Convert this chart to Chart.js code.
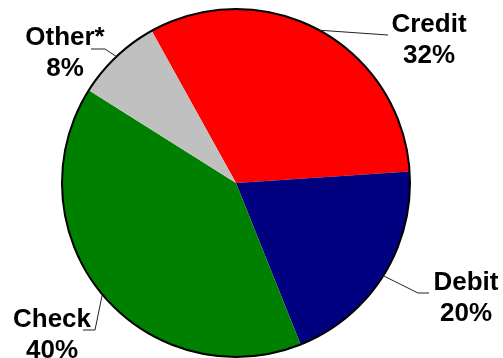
<!DOCTYPE html>
<html>
<head>
<meta charset="utf-8">
<script src="https://cdn.jsdelivr.net/npm/chart.js@4.4.0/dist/chart.umd.min.js"></script>
<style>
  html, body { margin: 0; padding: 0; background: #fff; }
  #wrap { width: 503px; height: 358px; }
</style>
</head>
<body>
<div id="wrap"><canvas id="payChart" width="503" height="358"></canvas></div>
<script>
// payment method share
const categories = ["Credit", "Debit", "Check", "Other*"];
const shares = [32, 20, 40, 8];
const sliceColors = ["#ff0000", "#000080", "#008000", "#c0c0c0"];

// label placement relative to pie center (px): text center x, first baseline y,
// leader elbow and end points
const labelLayout = [
  { dx: 193, dy: -151, elbow: [152, -148], end: [152, -148] },
  { dx: 230, dy: 107, elbow: [182, 110], end: [193, 110] },
  { dx: -184, dy: 144, elbow: [-141, 147], end: [-153, 147] },
  { dx: -171, dy: -138, elbow: [-131, -134], end: [-145, -134] },
];

const labelPlugin = {
  id: "pieLabels",
  afterDatasetsDraw(chart) {
    const ctx = chart.ctx;
    const meta = chart.getDatasetMeta(0);
    const first = meta.data[0];
    const cx = first.x;
    const cy = first.y;
    const r = first.outerRadius;

    // outer rim
    ctx.save();
    ctx.beginPath();
    ctx.arc(cx, cy, r, 0, Math.PI * 2);
    ctx.lineWidth = 2;
    ctx.strokeStyle = "#000";
    ctx.stroke();

    meta.data.forEach((arc, i) => {
      const mid = (arc.startAngle + arc.endAngle) / 2;
      const sx = cx + Math.cos(mid) * r;
      const sy = cy + Math.sin(mid) * r;
      const lay = labelLayout[i];
      ctx.beginPath();
      ctx.moveTo(sx, sy);
      ctx.lineTo(cx + lay.elbow[0], cy + lay.elbow[1]);
      ctx.lineTo(cx + lay.end[0], cy + lay.end[1]);
      ctx.lineWidth = 1;
      ctx.strokeStyle = "#222";
      ctx.stroke();

      ctx.fillStyle = "#000";
      ctx.font = "bold 26px 'Liberation Sans', Arial, sans-serif";
      ctx.textAlign = "center";
      ctx.textBaseline = "alphabetic";
      ctx.fillText(categories[i], cx + lay.dx, cy + lay.dy);
      ctx.fillText(shares[i] + "%", cx + lay.dx, cy + lay.dy + 31);
    });
    ctx.restore();
  },
};

new Chart(document.getElementById("payChart").getContext("2d"), {
  type: "pie",
  data: {
    labels: categories,
    datasets: [
      {
        data: shares,
        backgroundColor: sliceColors,
        borderWidth: 0,
      },
    ],
  },
  options: {
    responsive: false,
    animation: false,
    rotation: -29,
    layout: {
      padding: { left: 62, right: 93, top: 9, bottom: 1 },
    },
    plugins: {
      legend: { display: false },
      tooltip: { enabled: false },
    },
  },
  plugins: [labelPlugin],
});
</script>
</body>
</html>
